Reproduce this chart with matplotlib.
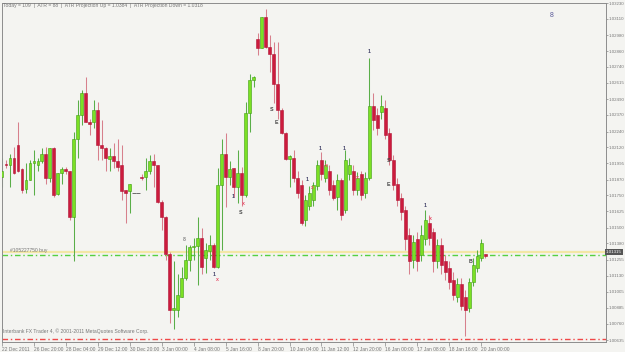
import matplotlib
matplotlib.use("Agg")
import matplotlib.pyplot as plt
import numpy as np

# H4 candles (prices)
opens = [1.0189, 1.0199, 1.0198, 1.0204, 1.0214, 1.0195, 1.0180, 1.0187, 1.0200, 1.0198,
         1.0201, 1.0207, 1.0188, 1.0211, 1.0176, 1.0192, 1.0195, 1.0194, 1.0158, 1.0218,
         1.0237, 1.0254, 1.0231, 1.0231, 1.0241, 1.0214, 1.0211, 1.0203, 1.0205, 1.0201,
         1.0198, 1.0179, 1.0178, 1.0177, 1.0177, 1.0189, 1.0189, 1.0194, 1.0201, 1.0198,
         1.0170, 1.0158, 1.0130, 1.0087, 1.0087, 1.0097, 1.0111, 1.0125, 1.0135, 1.0136,
         1.0142, 1.0127, 1.0132, 1.0137, 1.0120, 1.0183, 1.0207, 1.0189, 1.0196, 1.0181,
         1.0192, 1.0175, 1.0238, 1.0264, 1.0295, 1.0288, 1.0312, 1.0289, 1.0284, 1.0261,
         1.0241, 1.0223, 1.0203, 1.0204, 1.0188, 1.0183, 1.0156, 1.0167, 1.0171, 1.0182,
         1.0202, 1.0188, 1.0194, 1.0183, 1.0174, 1.0187, 1.0164, 1.0191, 1.0194, 1.0179,
         1.0191, 1.0177, 1.0188, 1.0244, 1.0237, 1.0239, 1.0242, 1.0223, 1.0202, 1.0184,
         1.0173, 1.0164, 1.0144, 1.0125, 1.0141, 1.0129, 1.0141, 1.0154, 1.0147, 1.0124,
         1.0137, 1.0124, 1.0119, 1.0110, 1.0097, 1.0107, 1.0097, 1.0088, 1.0108, 1.0119,
         1.0127, 1.0130]
highs = [1.0204, 1.0202, 1.0207, 1.0212, 1.0231, 1.0196, 1.0200, 1.0202, 1.0210, 1.0204,
         1.0211, 1.0212, 1.0211, 1.0212, 1.0192, 1.0197, 1.0197, 1.0194, 1.0224, 1.0248,
         1.0256, 1.0266, 1.0234, 1.0248, 1.0247, 1.0233, 1.0212, 1.0211, 1.0215, 1.0218,
         1.0214, 1.0179, 1.0184, 1.0177, 1.0177, 1.0191, 1.0204, 1.0206, 1.0207, 1.0198,
         1.0171, 1.0159, 1.0131, 1.0124, 1.0114, 1.0120, 1.0137, 1.0137, 1.0142, 1.0158,
         1.0150, 1.0138, 1.0144, 1.0138, 1.0196, 1.0218, 1.0223, 1.0201, 1.0196, 1.0210,
         1.0197, 1.0247, 1.0268, 1.0267, 1.0300, 1.0312, 1.0318, 1.0298, 1.0293, 1.0293,
         1.0242, 1.0224, 1.0206, 1.0210, 1.0194, 1.0187, 1.0175, 1.0182, 1.0185, 1.0202,
         1.0208, 1.0202, 1.0198, 1.0187, 1.0191, 1.0188, 1.0210, 1.0204, 1.0198, 1.0193,
         1.0194, 1.0193, 1.0281, 1.0254, 1.0242, 1.0252, 1.0248, 1.0227, 1.0206, 1.0188,
         1.0177, 1.0167, 1.0150, 1.0144, 1.0147, 1.0152, 1.0164, 1.0160, 1.0150, 1.0141,
         1.0142, 1.0129, 1.0124, 1.0116, 1.0111, 1.0111, 1.0102, 1.0111, 1.0127, 1.0133,
         1.0141, 1.0130]
lows = [1.0181, 1.0196, 1.0181, 1.0191, 1.0193, 1.0177, 1.0177, 1.0187, 1.0175, 1.0194,
        1.0200, 1.0184, 1.0185, 1.0174, 1.0175, 1.0184, 1.0191, 1.0156, 1.0124, 1.0204,
        1.0229, 1.0231, 1.0221, 1.0227, 1.0202, 1.0202, 1.0194, 1.0194, 1.0196, 1.0194,
        1.0171, 1.0154, 1.0161, 1.0177, 1.0177, 1.0187, 1.0179, 1.0191, 1.0181, 1.0169,
        1.0148, 1.0125, 1.0077, 1.0072, 1.0081, 1.0097, 1.0110, 1.0117, 1.0125, 1.0106,
        1.0114, 1.0115, 1.0125, 1.0119, 1.0119, 1.0133, 1.0166, 1.0183, 1.0174, 1.0169,
        1.0167, 1.0174, 1.0224, 1.0258, 1.0283, 1.0288, 1.0288, 1.0270, 1.0246, 1.0234,
        1.0222, 1.0202, 1.0181, 1.0185, 1.0173, 1.0152, 1.0151, 1.0164, 1.0167, 1.0179,
        1.0187, 1.0185, 1.0175, 1.0171, 1.0164, 1.0156, 1.0161, 1.0187, 1.0175, 1.0175,
        1.0171, 1.0173, 1.0187, 1.0225, 1.0221, 1.0234, 1.0218, 1.0198, 1.0179, 1.0167,
        1.0156, 1.0133, 1.0114, 1.0119, 1.0117, 1.0124, 1.0137, 1.0137, 1.0116, 1.0119,
        1.0114, 1.0110, 1.0103, 1.0094, 1.0093, 1.0087, 1.0067, 1.0085, 1.0105, 1.0116,
        1.0124, 1.0127]
closes = [1.0194, 1.0198, 1.0204, 1.0192, 1.0194, 1.0179, 1.0187, 1.0200, 1.0201, 1.0201,
          1.0207, 1.0188, 1.0211, 1.0175, 1.0192, 1.0195, 1.0194, 1.0158, 1.0218, 1.0237,
          1.0254, 1.0231, 1.0230, 1.0241, 1.0214, 1.0211, 1.0204, 1.0205, 1.0201, 1.0197,
          1.0178, 1.0177, 1.0184, 1.0177, 1.0177, 1.0188, 1.0194, 1.0201, 1.0198, 1.0170,
          1.0158, 1.0130, 1.0087, 1.0088, 1.0098, 1.0111, 1.0125, 1.0135, 1.0136, 1.0142,
          1.0120, 1.0133, 1.0137, 1.0120, 1.0183, 1.0207, 1.0189, 1.0195, 1.0181, 1.0192,
          1.0175, 1.0238, 1.0264, 1.0266, 1.0288, 1.0312, 1.0289, 1.0284, 1.0261, 1.0241,
          1.0223, 1.0203, 1.0205, 1.0188, 1.0177, 1.0154, 1.0171, 1.0177, 1.0183, 1.0198,
          1.0191, 1.0198, 1.0179, 1.0173, 1.0187, 1.0160, 1.0202, 1.0198, 1.0179, 1.0188,
          1.0175, 1.0188, 1.0244, 1.0233, 1.0227, 1.0244, 1.0221, 1.0202, 1.0183, 1.0171,
          1.0162, 1.0141, 1.0124, 1.0139, 1.0124, 1.0144, 1.0156, 1.0142, 1.0124, 1.0137,
          1.0121, 1.0116, 1.0108, 1.0098, 1.0107, 1.0090, 1.0087, 1.0108, 1.0121, 1.0128,
          1.0138, 1.0128]

price_ticks = [1.03230, 1.03110, 1.02980, 1.02860, 1.02740, 1.02615, 1.02490, 1.02370,
               1.02240, 1.02120, 1.01995, 1.01870, 1.01750, 1.01625, 1.01500, 1.01380,
               1.01255, 1.01130, 1.01005, 1.00885, 1.00760, 1.00635]
time_labels = ["22 Dec 2011", "26 Dec 20:00", "28 Dec 04:00", "29 Dec 12:00", "30 Dec 20:00",
               "3 Jan 00:00", "4 Jan 08:00", "5 Jan 16:00", "8 Jan 20:00", "10 Jan 04:00",
               "11 Jan 12:00", "12 Jan 20:00", "16 Jan 00:00", "17 Jan 08:00", "18 Jan 16:00",
               "20 Jan 00:00"]
bid = 1.01315
buy_level = 1.01288
red_level = 1.00642

# indicator signs on the chart: (bar, price, text, colour)
signs = [(53, 1.0114, "1", "#44446a"), (54, 1.0110, "x", "#e8506a"),
         (58, 1.0174, "1", "#44446a"), (60.5, 1.0169, "x", "#e8506a"),
         (59.75, 1.0162, "S", "#444444"), (67.5, 1.0241, "S", "#444444"),
         (68.75, 1.0231, "E", "#444444"), (45.75, 1.0141, "8", "#888888"),
         (76.5, 1.0187, "1", "#44446a"), (77.75, 1.0181, "x", "#e8506a"),
         (79.75, 1.0211, "1", "#44446a"), (81.25, 1.0198, "x", "#e8506a"),
         (85.75, 1.0211, "1", "#44446a"), (89, 1.0189, "x", "#e8506a"),
         (92, 1.0286, "1", "#44446a"), (96.75, 1.0202, "S", "#444444"),
         (96.75, 1.0183, "E", "#444444"), (106, 1.0167, "1", "#44446a"),
         (107.25, 1.0157, "x", "#e8506a"), (117.25, 1.0124, "B", "#444444")]

bg = "#f4f4f1"
fnt = "Liberation Sans"
fig = plt.figure(figsize=(6.25, 3.52), dpi=100, facecolor=bg)
ax = fig.add_axes([2 / 625, 10 / 352, 604 / 625, 339 / 352], facecolor=bg)

o = np.array(opens); h = np.array(highs); l = np.array(lows); c = np.array(closes)
x = np.arange(len(o))
up = c >= o
flat = np.isclose(o, h) & np.isclose(o, l) & np.isclose(o, c)

wick_col = np.where(up, "#5aae48", "#d7808c")
ax.vlines(x[~flat], l[~flat], h[~flat], colors=wick_col[~flat], linewidth=0.75, zorder=2)
body_h = np.maximum(np.abs(c - o), 0.00008)
bottoms = np.minimum(o, c)
ax.bar(x[up & ~flat], body_h[up & ~flat], bottom=bottoms[up & ~flat], width=0.72,
       color="#7be024", edgecolor="#3f9e12", linewidth=0.4, zorder=3)
ax.bar(x[~up], body_h[~up], bottom=bottoms[~up], width=0.72,
       color="#cc1b3d", edgecolor="#b01535", linewidth=0.4, zorder=3)
for xi in x[flat]:
    ax.hlines(o[xi], xi - 0.5, xi + 0.5, colors="#555555", linewidth=0.6, zorder=3)

# horizontal levels
ax.axhline(bid, color="#f3e7a6", linewidth=1.6, zorder=1)
ax.axhline(buy_level, color="#55d040", linewidth=1.0, linestyle=(0, (4, 2, 1, 2)), zorder=1)
ax.axhline(red_level, color="#f04848", linewidth=1.0, linestyle=(0, (4, 2, 1, 2)), zorder=1)
ax.text(2, buy_level + 0.00018, "#105227750 buy", fontsize=3.6, family=fnt,
        color="#777777", va="bottom")

for bx, py, t, col in signs:
    ax.text(bx, py, t, fontsize=3.8, family=fnt, color=col, ha="center", va="center",
            fontweight="bold", zorder=4)
ax.text(137.75, 1.0313, "8", fontsize=5, family=fnt, color="#5a5a9a", ha="center",
        va="center")

ax.set_xlim(0.25, 151.25)
ax.set_ylim(1.00620, 1.03230)

ax.yaxis.tick_right()
ax.set_yticks(price_ticks)
ax.set_yticklabels([f"{v:.5f}" for v in price_ticks])
ax.tick_params(axis="y", length=1.5, width=0.5, pad=0.5, labelsize=3.2, colors="#888888",
               labelcolor="#777777")
for lab in ax.get_yticklabels():
    lab.set_family(fnt)

ax.set_xticks(np.arange(len(time_labels)) * 8)
ax.set_xticklabels(time_labels)
ax.tick_params(axis="x", length=3, width=0.5, pad=0.5, labelsize=3.5, colors="#888888",
               labelcolor="#777777")
for lab in ax.get_xticklabels():
    lab.set_family(fnt)
    lab.set_horizontalalignment("left")

for sp in ax.spines.values():
    sp.set_color("#8c8c8c")
    sp.set_linewidth(0.7)

ax.text(1.0, bid, "1.01315", transform=ax.get_yaxis_transform(), fontsize=3.2,
        family=fnt, color="white", ha="left", va="center",
        bbox=dict(boxstyle="square,pad=0.2", facecolor="#555555", edgecolor="none"))

fig.text(3 / 625, 1 - 5.5 / 352,
         "Today = 109  |  ATR = 88  |  ATR Projection Up = 1.0384  |  ATR Projection Down = 1.0318",
         fontsize=3.6, family=fnt, color="#777777", va="center")
fig.text(3 / 625, 1 - 331 / 352,
         "Interbank FX Trader 4, \u00a9 2001-2011 MetaQuotes Software Corp.",
         fontsize=3.6, family=fnt, color="#777777", va="center")

fig.savefig("out.png", dpi=100, facecolor=bg)
